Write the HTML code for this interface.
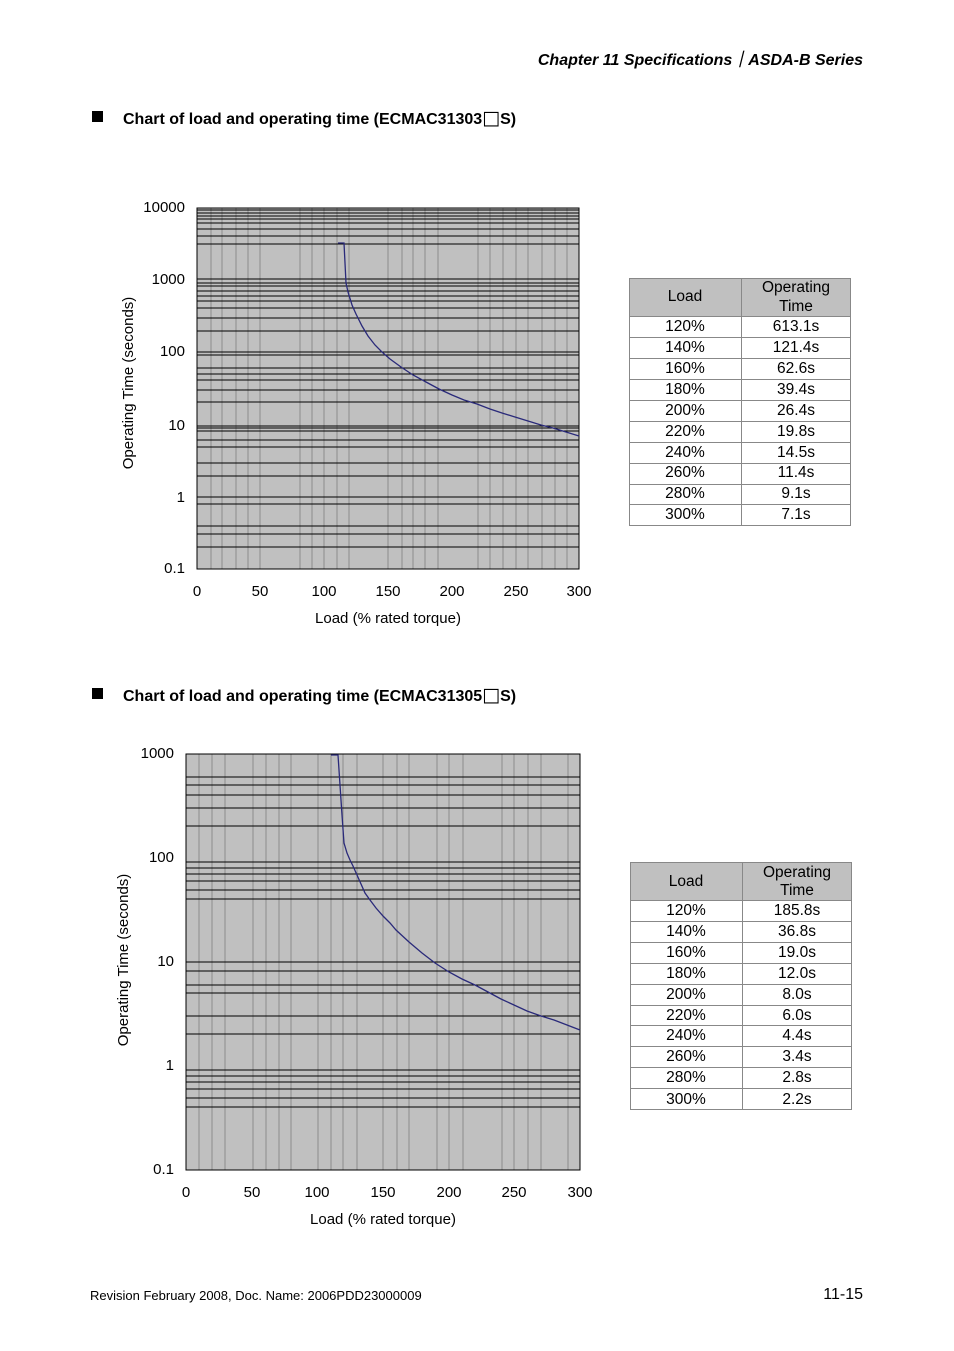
<!DOCTYPE html>
<html><head><meta charset="utf-8"><style>
html,body{margin:0;padding:0;background:#fff}
svg{display:block}
text{font-family:"Liberation Sans",Arial,sans-serif;fill:#000}
</style></head><body>
<svg width="954" height="1351" viewBox="0 0 954 1351" xmlns="http://www.w3.org/2000/svg">
<text x="863" y="65" font-size="16" font-weight="bold" font-style="italic" text-anchor="end">Chapter 11  Specifications｜ASDA-B Series</text>
<rect x="92" y="111" width="11" height="11" fill="#000"/>
<text x="123" y="124" font-size="16" font-weight="bold">Chart of load and operating time (ECMAC31303<tspan font-weight="normal" font-family="DejaVu Sans" font-size="19">□</tspan>S)</text>
<rect x="92" y="688" width="11" height="11" fill="#000"/>
<text x="123" y="701" font-size="16" font-weight="bold">Chart of load and operating time (ECMAC31305<tspan font-weight="normal" font-family="DejaVu Sans" font-size="19">□</tspan>S)</text>

<!-- Chart 1 -->
<rect x="197" y="208" width="382" height="361" fill="#c0c0c0"/>
<g stroke="#8c8c8c" stroke-width="1">
<path d="M211 208V569M222 208V569M236 208V569M248 208V569M260 208V569M300 208V569M312 208V569M324 208V569M337 208V569M349 208V569M388 208V569M402 208V569M413 208V569M425 208V569M438 208V569M478 208V569M490 208V569M503 208V569M516 208V569M528 208V569M542 208V569M555 208V569M567 208V569"/>
</g>
<g stroke="#000" stroke-width="1">
<path d="M197 210H579M197 213H579M197 216H579M197 219H579M197 223H579M197 229H579M197 236H579M197 244H579M197 279H579M197 283H579M197 286H579M197 291H579M197 296H579M197 301H579M197 308H579M197 318H579M197 331H579M197 352H579M197 355H579M197 368H579M197 374H579M197 380H579M197 390H579M197 402H579M197 426H579M197 428H579M197 431H579M197 440H579M197 447H579M197 463H579M197 476H579M197 497H579M197 504H579M197 526H579M197 534H579M197 547H579"/>
</g>
<rect x="197" y="208" width="382" height="361" fill="none" stroke="#000" stroke-width="1"/>
<polyline fill="none" stroke="#2a2a7a" stroke-width="1.3" points="338,243 344,243 346,283 348,292 352,305 356,314 362,326 368,336 375,345 382,352 390,359 401,367 413,375 426,382 439,389 452,395 464,400 477,404 490,409 502,413 515,417 528,421 541,425 553,428 566,432 579,436"/>
<g font-size="15" text-anchor="end">
<text x="185" y="212">10000</text><text x="185" y="284">1000</text><text x="185" y="356">100</text><text x="185" y="430">10</text><text x="185" y="502">1</text><text x="185" y="573">0.1</text>
</g>
<g font-size="15" text-anchor="middle">
<text x="197" y="596">0</text><text x="260" y="596">50</text><text x="324" y="596">100</text><text x="388" y="596">150</text><text x="452" y="596">200</text><text x="516" y="596">250</text><text x="579" y="596">300</text>
<text x="388" y="623">Load (% rated torque)</text>
<text transform="translate(133,383) rotate(-90)">Operating Time (seconds)</text>
</g>

<!-- Table 1 -->
<g font-size="15.5" text-anchor="middle">
<rect x="629.5" y="278.5" width="221" height="38" fill="#c0c0c0" stroke="#888"/>
<line x1="741.5" y1="278" x2="741.5" y2="525" stroke="#888"/>
<rect x="629.5" y="278.5" width="221" height="247" fill="none" stroke="#888"/>
<path d="M629 337.5H851M629 358.5H851M629 379.5H851M629 400.5H851M629 421.5H851M629 442.5H851M629 463.5H851M629 484.5H851M629 504.5H851" stroke="#888"/>
<text x="685" y="301">Load</text><text x="796" y="292">Operating</text><text x="796" y="311">Time</text>
<text x="685" y="331">120%</text><text x="796" y="331">613.1s</text>
<text x="685" y="352">140%</text><text x="796" y="352">121.4s</text>
<text x="685" y="373">160%</text><text x="796" y="373">62.6s</text>
<text x="685" y="394">180%</text><text x="796" y="394">39.4s</text>
<text x="685" y="415">200%</text><text x="796" y="415">26.4s</text>
<text x="685" y="436">220%</text><text x="796" y="436">19.8s</text>
<text x="685" y="457">240%</text><text x="796" y="457">14.5s</text>
<text x="685" y="477">260%</text><text x="796" y="477">11.4s</text>
<text x="685" y="498">280%</text><text x="796" y="498">9.1s</text>
<text x="685" y="519">300%</text><text x="796" y="519">7.1s</text>
</g>

<!-- Chart 2 -->
<rect x="186" y="754" width="394" height="416" fill="#c0c0c0"/>
<g stroke="#8c8c8c" stroke-width="1">
<path d="M199 754V1170M212 754V1170M225 754V1170M253 754V1170M266 754V1170M279 754V1170M291 754V1170M318 754V1170M331 754V1170M343 754V1170M357 754V1170M383 754V1170M397 754V1170M409 754V1170M437 754V1170M449 754V1170M463 754V1170M502 754V1170M514 754V1170M528 754V1170M541 754V1170M568 754V1170"/>
</g>
<g stroke="#000" stroke-width="1">
<path d="M186 777H580M186 785H580M186 795H580M186 808H580M186 826H580M186 862H580M186 868H580M186 874H580M186 881H580M186 890H580M186 899H580M186 962H580M186 971H580M186 985H580M186 993H580M186 1016H580M186 1034H580M186 1070H580M186 1076H580M186 1082H580M186 1089H580M186 1098H580M186 1107H580"/>
</g>
<rect x="186" y="754" width="394" height="416" fill="none" stroke="#000" stroke-width="1"/>
<polyline fill="none" stroke="#2a2a7a" stroke-width="1.3" points="331,755 338,755 342,815 344,843 347,853 350,860 353,866 357,875 361,884 365,893 370,900 376,908 383,916 390,923 396,930 409,942 422,953 435,963 449,972 462,979 475,985 488,992 501,999 514,1005 527,1011 541,1016 554,1020 567,1025 580,1030"/>
<g font-size="15" text-anchor="end">
<text x="174" y="758">1000</text><text x="174" y="862">100</text><text x="174" y="966">10</text><text x="174" y="1070">1</text><text x="174" y="1174">0.1</text>
</g>
<g font-size="15" text-anchor="middle">
<text x="186" y="1197">0</text><text x="252" y="1197">50</text><text x="317" y="1197">100</text><text x="383" y="1197">150</text><text x="449" y="1197">200</text><text x="514" y="1197">250</text><text x="580" y="1197">300</text>
<text x="383" y="1224">Load (% rated torque)</text>
<text transform="translate(128,960) rotate(-90)">Operating Time (seconds)</text>
</g>

<!-- Table 2 -->
<g font-size="15.5" text-anchor="middle">
<rect x="630.5" y="862.5" width="221" height="38" fill="#c0c0c0" stroke="#888"/>
<line x1="742.5" y1="862" x2="742.5" y2="1109" stroke="#888"/>
<rect x="630.5" y="862.5" width="221" height="247" fill="none" stroke="#888"/>
<path d="M630 921.5H852M630 942.5H852M630 963.5H852M630 984.5H852M630 1005.5H852M630 1025.5H852M630 1046.5H852M630 1067.5H852M630 1088.5H852" stroke="#888"/>
<text x="686" y="886">Load</text><text x="797" y="877">Operating</text><text x="797" y="895">Time</text>
<text x="686" y="915">120%</text><text x="797" y="915">185.8s</text>
<text x="686" y="936">140%</text><text x="797" y="936">36.8s</text>
<text x="686" y="957">160%</text><text x="797" y="957">19.0s</text>
<text x="686" y="978">180%</text><text x="797" y="978">12.0s</text>
<text x="686" y="999">200%</text><text x="797" y="999">8.0s</text>
<text x="686" y="1020">220%</text><text x="797" y="1020">6.0s</text>
<text x="686" y="1040">240%</text><text x="797" y="1040">4.4s</text>
<text x="686" y="1061">260%</text><text x="797" y="1061">3.4s</text>
<text x="686" y="1082">280%</text><text x="797" y="1082">2.8s</text>
<text x="686" y="1104">300%</text><text x="797" y="1104">2.2s</text>
</g>

<text x="90" y="1300" font-size="13">Revision February 2008, Doc. Name: 2006PDD23000009</text>
<text x="863" y="1299" font-size="16" text-anchor="end">11-15</text>
</svg>
</body></html>
